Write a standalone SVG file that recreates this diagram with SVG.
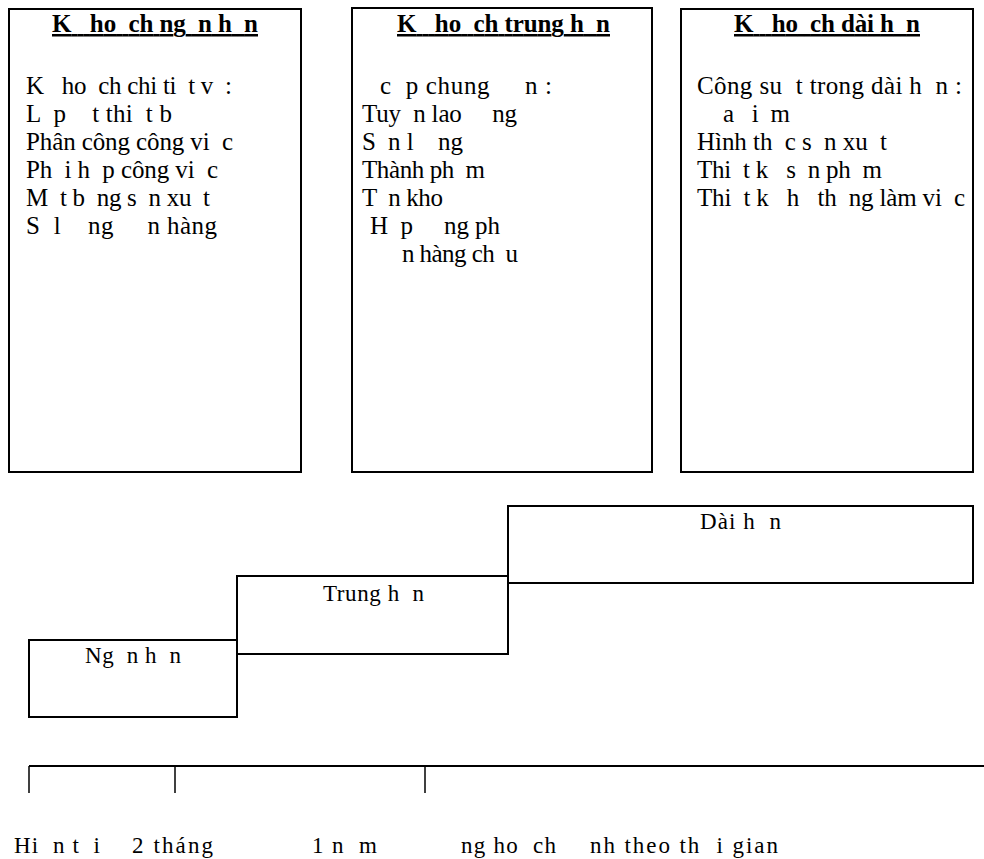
<svg xmlns="http://www.w3.org/2000/svg" width="984" height="859" viewBox="0 0 984 859">
<style>
text{font-family:"Liberation Serif","DejaVu Serif",serif;fill:#000;white-space:pre}
.box{fill:#fff;stroke:#000;stroke-width:2}
.t{font-size:25px;font-weight:bold;text-decoration:underline}
.b{font-size:25px}
.s{font-size:23px}
.line{stroke:#000;stroke-width:2;fill:none}
.tick{stroke:#000;stroke-width:1.5;fill:none}
</style>
<g id="box-ngan-han">
<rect class="box" x="9" y="9" width="292" height="463"/>
<text class="t" x="52" y="32" textLength="206" lengthAdjust="spacing" xml:space="preserve">K   ho  ch ng  n h  n</text>
<text class="b" x="26" y="94" textLength="206" lengthAdjust="spacing" xml:space="preserve">K   ho  ch chi ti  t v  :</text>
<text class="b" x="26" y="122" textLength="146" lengthAdjust="spacing" xml:space="preserve">L  p    t thi  t b</text>
<text class="b" x="26" y="150" textLength="207" lengthAdjust="spacing" xml:space="preserve">Phân công công vi  c</text>
<text class="b" x="26" y="178" textLength="192" lengthAdjust="spacing" xml:space="preserve">Ph  i h  p công vi  c</text>
<text class="b" x="26" y="206" textLength="184" lengthAdjust="spacing" xml:space="preserve">M  t b  ng s  n xu  t</text>
<text class="b" x="26" y="234" textLength="191" lengthAdjust="spacing" xml:space="preserve">S  l    ng     n hàng</text>
</g>
<g id="box-trung-han">
<rect class="box" x="352" y="8" width="300" height="464"/>
<text class="t" x="397" y="32" textLength="213" lengthAdjust="spacing" xml:space="preserve">K   ho  ch trung h  n</text>
<text class="b" x="380" y="94" textLength="172" lengthAdjust="spacing" xml:space="preserve">c  p chung     n :</text>
<text class="b" x="362" y="122" textLength="155" lengthAdjust="spacing" xml:space="preserve">Tuy  n lao     ng</text>
<text class="b" x="362" y="150" textLength="101" lengthAdjust="spacing" xml:space="preserve">S  n l    ng</text>
<text class="b" x="362" y="178" textLength="123" lengthAdjust="spacing" xml:space="preserve">Thành ph  m</text>
<text class="b" x="362" y="206" textLength="81" lengthAdjust="spacing" xml:space="preserve">T  n kho</text>
<text class="b" x="370" y="234" textLength="130" lengthAdjust="spacing" xml:space="preserve">H  p     ng ph</text>
<text class="b" x="402" y="262" textLength="116" lengthAdjust="spacing" xml:space="preserve">n hàng ch  u</text>
</g>
<g id="box-dai-han">
<rect class="box" x="681" y="9" width="292" height="463"/>
<text class="t" x="734" y="32" textLength="186" lengthAdjust="spacing" xml:space="preserve">K   ho  ch dài h  n</text>
<text class="b" x="697" y="94" textLength="265" lengthAdjust="spacing" xml:space="preserve">Công su  t trong dài h  n :</text>
<text class="b" x="723" y="122" textLength="67" lengthAdjust="spacing" xml:space="preserve">a   i  m</text>
<text class="b" x="697" y="150" textLength="190" lengthAdjust="spacing" xml:space="preserve">Hình th  c s  n xu  t</text>
<text class="b" x="697" y="178" textLength="185" lengthAdjust="spacing" xml:space="preserve">Thi  t k   s  n ph  m</text>
<text class="b" x="697" y="206" textLength="268" lengthAdjust="spacing" xml:space="preserve">Thi  t k   h   th  ng làm vi  c</text>
</g>
<g id="step-dai-han">
<rect class="box" x="508" y="506" width="465" height="77"/>
<text class="s" x="700" y="529" textLength="81" lengthAdjust="spacing" xml:space="preserve">Dài h  n</text>
</g>
<g id="step-trung-han">
<rect class="box" x="237" y="576" width="271" height="78"/>
<text class="s" x="323" y="601" textLength="101" lengthAdjust="spacing" xml:space="preserve">Trung h  n</text>
</g>
<g id="step-ngan-han">
<rect class="box" x="29" y="640" width="208" height="77"/>
<text class="s" x="85" y="663" textLength="96" lengthAdjust="spacing" xml:space="preserve">Ng  n h  n</text>
</g>
<g id="connectors">
<line class="line" x1="29" y1="766" x2="984" y2="766"/>
<line class="tick" x1="29" y1="766" x2="29" y2="793"/>
<line class="tick" x1="175" y1="766" x2="175" y2="793"/>
<line class="tick" x1="425" y1="766" x2="425" y2="793"/>
</g>
<g id="timeline-labels">
<text class="s" x="14" y="853" textLength="86" lengthAdjust="spacing" xml:space="preserve">Hi  n t  i</text>
<text class="s" x="132" y="853" textLength="81" lengthAdjust="spacing" xml:space="preserve">2 tháng</text>
<text class="s" x="312" y="853" textLength="65" lengthAdjust="spacing" xml:space="preserve">1 n  m</text>
<text class="s" x="461" y="853" textLength="95" lengthAdjust="spacing" xml:space="preserve">ng ho  ch</text>
<text class="s" x="590" y="853" textLength="188" lengthAdjust="spacing" xml:space="preserve">nh theo th  i gian</text>
</g>
</svg>
